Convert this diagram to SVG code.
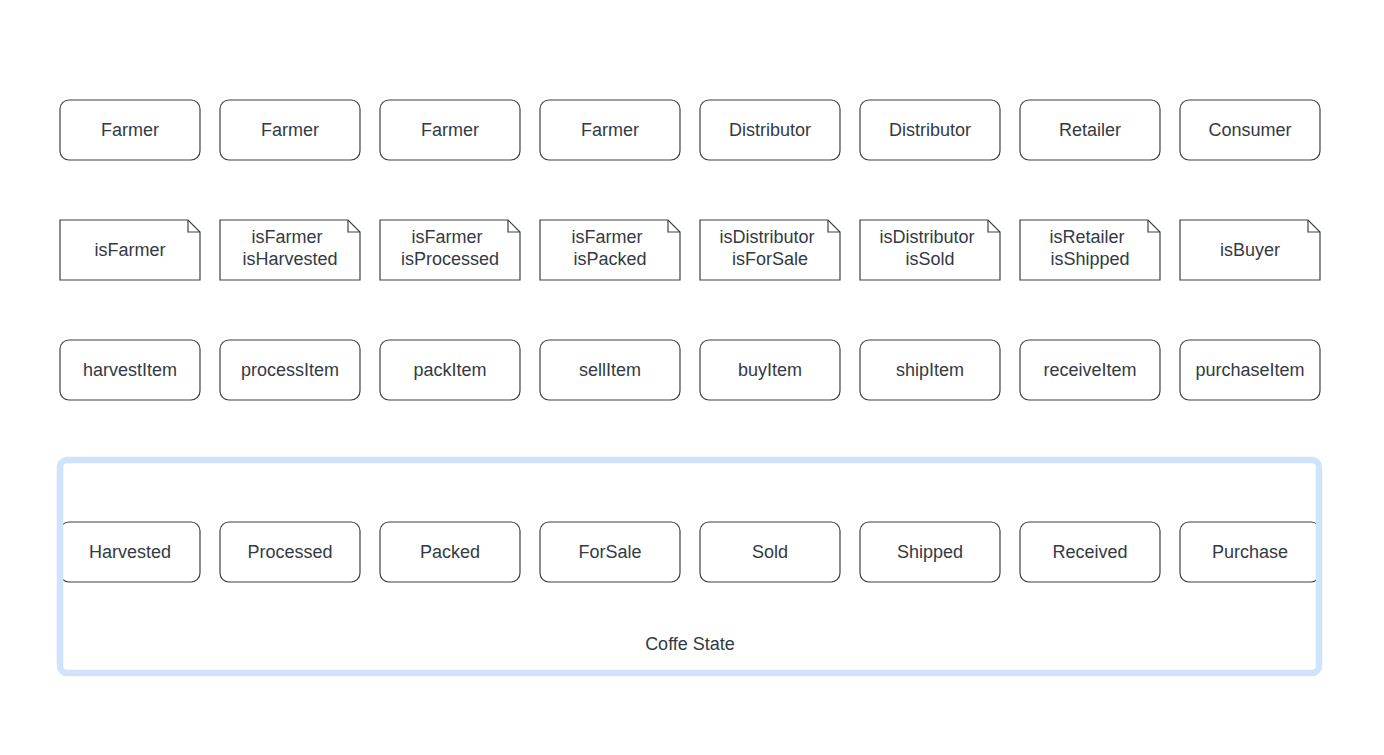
<svg xmlns="http://www.w3.org/2000/svg" width="1384" height="755" viewBox="0 0 1384 755">
<style>
.box{fill:#fff;stroke:#3a414a;stroke-width:1.2}
.note{fill:#fff;stroke:#3a414a;stroke-width:1.2;stroke-linejoin:miter}
.fold{fill:none;stroke:#3a414a;stroke-width:1.2}
text{font-family:"Liberation Sans",Arial,sans-serif;font-size:18px;fill:#333a44;text-anchor:middle}
.cont{fill:none;stroke:#cfe3fd;stroke-width:6.5}
</style>
<rect width="1384" height="755" fill="#fff"/>
<defs>
<rect id="rb" class="box" x="0" y="0" width="140" height="60" rx="9"/>
<g id="nt"><path class="note" d="M0,0 H128 L140,12 V60 H0 Z"/><path class="fold" d="M128,0 V12 H140"/></g>
</defs>
<g id="roles">
<g id="r1"><use href="#rb" x="60" y="100"/><text x="130" y="136">Farmer</text></g>
<g id="r2"><use href="#rb" x="220" y="100"/><text x="290" y="136">Farmer</text></g>
<g id="r3"><use href="#rb" x="380" y="100"/><text x="450" y="136">Farmer</text></g>
<g id="r4"><use href="#rb" x="540" y="100"/><text x="610" y="136">Farmer</text></g>
<g id="r5"><use href="#rb" x="700" y="100"/><text x="770" y="136">Distributor</text></g>
<g id="r6"><use href="#rb" x="860" y="100"/><text x="930" y="136">Distributor</text></g>
<g id="r7"><use href="#rb" x="1020" y="100"/><text x="1090" y="136">Retailer</text></g>
<g id="r8"><use href="#rb" x="1180" y="100"/><text x="1250" y="136">Consumer</text></g>
</g>
<g id="modifiers">
<g id="m1"><use href="#nt" x="60" y="220"/><text x="130" y="256">isFarmer</text></g>
<g id="m2"><use href="#nt" x="220" y="220"/><text x="287" y="243">isFarmer</text><text x="290" y="265">isHarvested</text></g>
<g id="m3"><use href="#nt" x="380" y="220"/><text x="447" y="243">isFarmer</text><text x="450" y="265">isProcessed</text></g>
<g id="m4"><use href="#nt" x="540" y="220"/><text x="607" y="243">isFarmer</text><text x="610" y="265">isPacked</text></g>
<g id="m5"><use href="#nt" x="700" y="220"/><text x="767" y="243">isDistributor</text><text x="770" y="265">isForSale</text></g>
<g id="m6"><use href="#nt" x="860" y="220"/><text x="927" y="243">isDistributor</text><text x="930" y="265">isSold</text></g>
<g id="m7"><use href="#nt" x="1020" y="220"/><text x="1087" y="243">isRetailer</text><text x="1090" y="265">isShipped</text></g>
<g id="m8"><use href="#nt" x="1180" y="220"/><text x="1250" y="256">isBuyer</text></g>
</g>
<g id="functions">
<g id="f1"><use href="#rb" x="60" y="340"/><text x="130" y="376">harvestItem</text></g>
<g id="f2"><use href="#rb" x="220" y="340"/><text x="290" y="376">processItem</text></g>
<g id="f3"><use href="#rb" x="380" y="340"/><text x="450" y="376">packItem</text></g>
<g id="f4"><use href="#rb" x="540" y="340"/><text x="610" y="376">sellItem</text></g>
<g id="f5"><use href="#rb" x="700" y="340"/><text x="770" y="376">buyItem</text></g>
<g id="f6"><use href="#rb" x="860" y="340"/><text x="930" y="376">shipItem</text></g>
<g id="f7"><use href="#rb" x="1020" y="340"/><text x="1090" y="376">receiveItem</text></g>
<g id="f8"><use href="#rb" x="1180" y="340"/><text x="1250" y="376">purchaseItem</text></g>
</g>
<g id="states">
<g id="s1"><use href="#rb" x="60" y="522"/><text x="130" y="558">Harvested</text></g>
<g id="s2"><use href="#rb" x="220" y="522"/><text x="290" y="558">Processed</text></g>
<g id="s3"><use href="#rb" x="380" y="522"/><text x="450" y="558">Packed</text></g>
<g id="s4"><use href="#rb" x="540" y="522"/><text x="610" y="558">ForSale</text></g>
<g id="s5"><use href="#rb" x="700" y="522"/><text x="770" y="558">Sold</text></g>
<g id="s6"><use href="#rb" x="860" y="522"/><text x="930" y="558">Shipped</text></g>
<g id="s7"><use href="#rb" x="1020" y="522"/><text x="1090" y="558">Received</text></g>
<g id="s8"><use href="#rb" x="1180" y="522"/><text x="1250" y="558">Purchase</text></g>
</g>
<g id="container">
<rect class="cont" x="60" y="460" width="1259" height="213" rx="7"/>
<text x="690" y="650">Coffe State</text>
</g>
<g id="connectors"></g>
</svg>
